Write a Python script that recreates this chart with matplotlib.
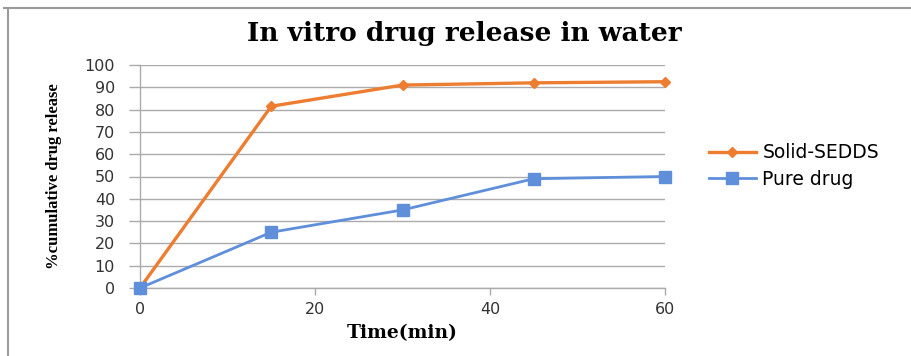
import matplotlib
matplotlib.use("Agg")
import matplotlib.pyplot as plt
from matplotlib.lines import Line2D

# Release profile (time in minutes, % cumulative release)
time_min = [0, 15, 30, 45, 60]
solid_sedds = [0, 81.5, 91, 92, 92.5]
pure_drug = [0, 25, 35, 49, 50]

orange = "#ED7D31"
blue = "#5F8FDA"
grid_col = "#ABABAB"
sans = "DejaVu Sans"
serif_wide = "DejaVu Serif"

fig = plt.figure(figsize=(9.11, 3.56), dpi=100)
ax = fig.add_axes([140 / 911, 1 - 288 / 356, 525 / 911, 223 / 356])

ax.plot(time_min, solid_sedds, color=orange, lw=2.4, marker="D", ms=5,
        label="Solid-SEDDS", zorder=3, clip_on=False)
ax.plot(time_min, pure_drug, color=blue, lw=2.0, marker="s", ms=8,
        label="Pure drug", zorder=3, clip_on=False)

ax.set_xlim(0, 60)
ax.set_ylim(0, 100)
ax.set_xticks([0, 20, 40, 60])
ax.set_yticks(range(0, 101, 10))
ax.yaxis.grid(True, color=grid_col, lw=1)
ax.set_axisbelow(True)
for side in ["top", "right"]:
    ax.spines[side].set_visible(False)
for side in ["left", "bottom"]:
    ax.spines[side].set_color(grid_col)
    ax.spines[side].set_linewidth(1)
ax.tick_params(axis="both", colors=grid_col, width=1,
               labelcolor="#333333", labelsize=11.5)
ax.tick_params(axis="y", length=8, pad=10)
ax.tick_params(axis="x", length=5, pad=5)
for lbl in ax.get_xticklabels() + ax.get_yticklabels():
    lbl.set_fontfamily(sans)

ax.set_xlabel("Time(min)", fontfamily=serif_wide, fontweight="bold",
              fontsize=13.5, labelpad=5)
ax.set_ylabel("%cumulative drug release", fontfamily="Liberation Serif",
              fontweight="bold", fontsize=12, labelpad=16)

fig.text(464 / 911, 1 - 33 / 356, "In vitro drug release in water",
         ha="center", va="center", fontfamily=serif_wide,
         fontweight="bold", fontsize=19)

handles = [
    Line2D([], [], color=orange, lw=2.4, marker="D", ms=5),
    Line2D([], [], color=blue, lw=2.0, marker="s", ms=8),
]
fig.legend(handles, ["Solid-SEDDS", "Pure drug"], loc="center left",
           bbox_to_anchor=(692 / 911, 1 - 166 / 356), frameon=False,
           prop={"family": sans, "size": 13.5}, handlelength=2.5,
           labelspacing=0.4, handletextpad=0.35)

# outer chart frame (top and left edges)
fig.add_artist(Line2D([4 / 911, 1], [1 - 8 / 356, 1 - 8 / 356],
                      transform=fig.transFigure, color="#9A9A9A", lw=1.5))
fig.add_artist(Line2D([8 / 911, 8 / 911], [0, 1 - 8 / 356],
                      transform=fig.transFigure, color="#9A9A9A", lw=1.5))

fig.savefig("out.png", dpi=100)
